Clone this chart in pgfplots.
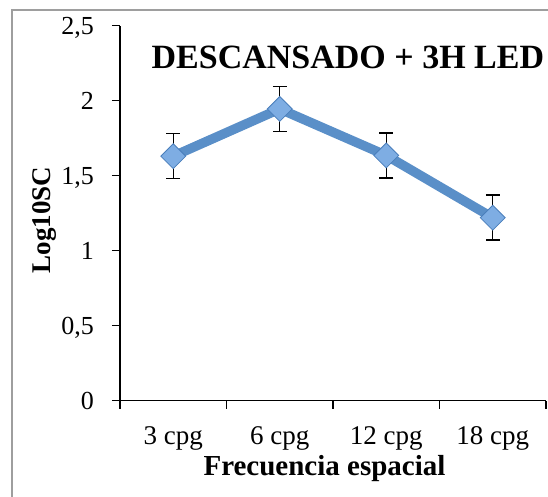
\documentclass[border=0pt]{standalone}
\usepackage{fontspec}
\setmainfont{Liberation Serif}
\usepackage{pgfplots}
\pgfplotsset{compat=1.18}
\definecolor{lineblue}{HTML}{5A8FC8}
\definecolor{markfill}{HTML}{7EADE3}
\definecolor{markdraw}{HTML}{4A7EBB}
\begin{document}
\begin{tikzpicture}
\useasboundingbox (-120pt,-96.3pt) rectangle (428pt,400.7pt);
\draw[color=black!38, line width=2pt] (-108pt,-120pt) -- (-108pt,390.7pt) -- (440pt,390.7pt);
\begin{axis}[
  scale only axis, width=426pt, height=375pt,
  xmin=-0.5, xmax=3.5, ymin=0, ymax=2.5,
  axis x line*=bottom, axis y line*=left,
  axis line style={line width=1.6pt, black},
  ytick={0,0.5,1,1.5,2,2.5},
  xtick={-0.5,0.5,1.5,2.5,3.5}, xticklabels={},
  extra x ticks={0,1,2,3},
  extra x tick labels={3 cpg,6 cpg,12 cpg,18 cpg},
  extra x tick style={major tick length=0pt, grid=none},
  tick align=outside, major tick length=8pt,
  tick style={line width=1.6pt, black},
  /pgf/number format/assume math mode=true,
  /pgf/number format/use comma,
  yticklabel style={font=\fontsize{26}{31}\selectfont, anchor=base east, inner sep=0pt, xshift=-18pt, yshift=-8.8pt},
  xticklabel style={font=\fontsize{27}{32}\selectfont, anchor=base, inner sep=0pt, yshift=-44pt},
  xlabel={Frecuencia espacial},
  ylabel={Log10SC},
  xlabel style={font=\fontsize{29}{34}\selectfont\bfseries, at={(axis description cs:0.48,-0.18)}, anchor=center},
  ylabel style={font=\fontsize{27}{32}\selectfont\bfseries, at={(axis description cs:-0.178,0.482)}, anchor=center},
  clip=false,
]
\addplot[draw=none, mark=none,
  error bars/.cd, y dir=both, y explicit,
  error bar style={line width=1.4pt, black},
  error mark options={rotate=90, mark size=7pt, line width=1.4pt, black}]
coordinates {
  (0,1.63)  +- (0,0.15)
  (1,1.945) +- (0,0.15)
  (2,1.635) +- (0,0.15)
  (3,1.22)  +- (0,0.15)
};
\addplot[color=lineblue, line width=9.5pt,
  mark=square*, mark size=8.8pt,
  mark options={rotate=45, fill=markfill, draw=markdraw, line width=0.8pt}]
coordinates {
  (0,1.63)
  (1,1.945)
  (2,1.635)
  (3,1.22)
};
\node[font=\fontsize{34}{40}\selectfont\bfseries] at (rel axis cs:0.535,0.9165) {DESCANSADO + 3H LED};
\end{axis}
\end{tikzpicture}
\end{document}
